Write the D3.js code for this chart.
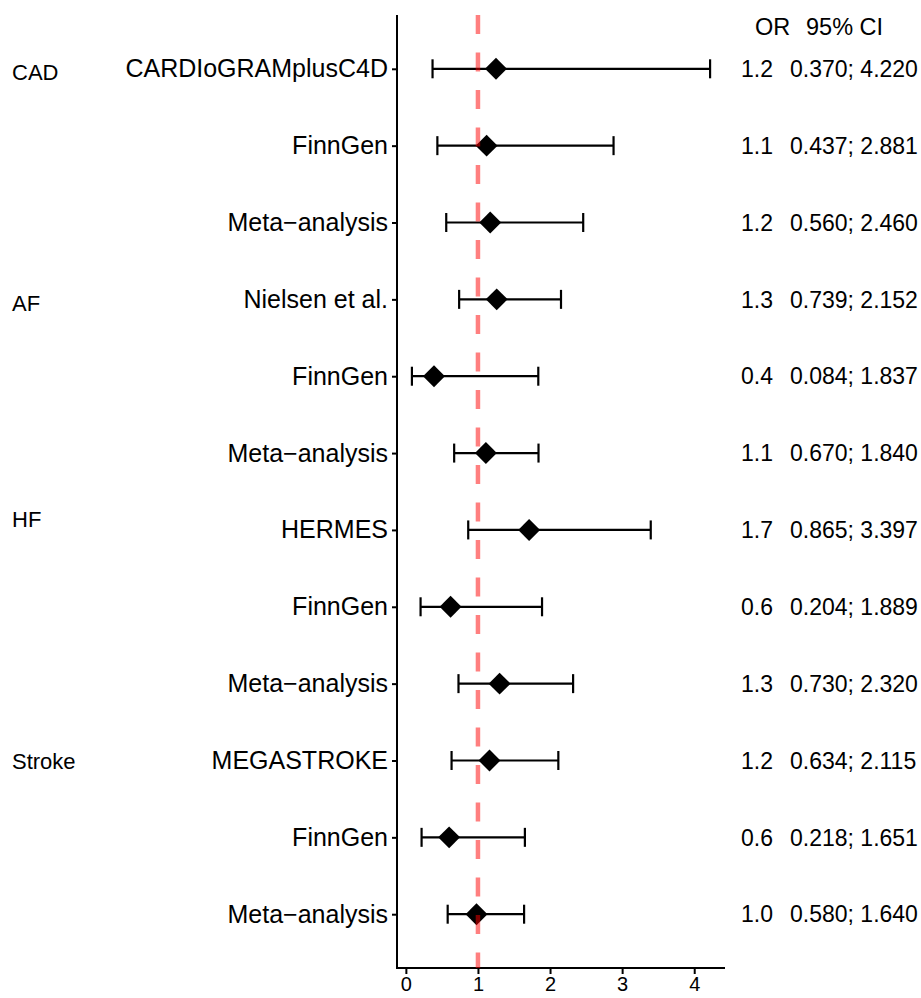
<!DOCTYPE html>
<html>
<head>
<meta charset="utf-8">
<script src="https://cdn.jsdelivr.net/npm/d3@7"></script>
<style>
  html, body { margin: 0; padding: 0; background: #fff; }
  svg { display: block; }
  text { font-family: "Liberation Sans", Arial, Helvetica, sans-serif; fill: #000; }
</style>
</head>
<body>
<svg id="chart" width="921" height="998"></svg>
<script>
// ---- data ----
const studies = ["CARDIoGRAMplusC4D", "FinnGen", "Meta\u2212analysis",
                 "Nielsen et al.", "FinnGen", "Meta\u2212analysis",
                 "HERMES", "FinnGen", "Meta\u2212analysis",
                 "MEGASTROKE", "FinnGen", "Meta\u2212analysis"];
const orValues = [1.25, 1.12, 1.17, 1.26, 0.39, 1.11, 1.71, 0.62, 1.30, 1.16, 0.60, 0.98];
const ciLower  = [0.370, 0.437, 0.560, 0.739, 0.084, 0.670, 0.865, 0.204, 0.730, 0.634, 0.218, 0.580];
const ciUpper  = [4.220, 2.881, 2.460, 2.152, 1.837, 1.840, 3.397, 1.889, 2.320, 2.115, 1.651, 1.640];
const orLabels = ["1.2", "1.1", "1.2", "1.3", "0.4", "1.1", "1.7", "0.6", "1.3", "1.2", "0.6", "1.0"];
const ciLabels = ["0.370; 4.220", "0.437; 2.881", "0.560; 2.460", "0.739; 2.152", "0.084; 1.837",
                  "0.670; 1.840", "0.865; 3.397", "0.204; 1.889", "0.730; 2.320", "0.634; 2.115",
                  "0.218; 1.651", "0.580; 1.640"];
const groups = ["CAD", "AF", "HF", "Stroke"];
const groupRows = [0, 3, 6, 9];
const xTicks = [0, 1, 2, 3, 4];
const refValue = 1;
const headers = ["OR", "95% CI"];

// ---- layout ----
const panel = { left: 397, right: 725, top: 15, bottom: 968 };
const groupDy = [3.5, 4, -11, 1];

const svg = d3.select("#chart");
const rows = d3.range(studies.length);

const x = d3.scaleLinear().domain([-0.123, 4.427]).range([panel.left, panel.right]);
const y = d3.scalePoint().domain(rows).range([panel.top, panel.bottom]).padding(0.7);

// error bars
const bars = svg.append("g").attr("stroke", "#000").attr("stroke-width", 2.2).attr("fill", "none");
rows.forEach(i => {
  const yy = y(i);
  bars.append("line").attr("x1", x(ciLower[i])).attr("x2", x(ciUpper[i])).attr("y1", yy).attr("y2", yy);
  bars.append("line").attr("x1", x(ciLower[i])).attr("x2", x(ciLower[i])).attr("y1", yy - 9.5).attr("y2", yy + 9.5);
  bars.append("line").attr("x1", x(ciUpper[i])).attr("x2", x(ciUpper[i])).attr("y1", yy - 9.5).attr("y2", yy + 9.5);
});

// diamonds
const diamond = d3.symbol(d3.symbolSquare, 240);
svg.append("g").selectAll("path").data(rows).join("path")
  .attr("d", diamond)
  .attr("transform", i => `translate(${x(orValues[i])},${y(i)}) rotate(45)`)
  .attr("fill", "#000");

// x axis
const xAxis = svg.append("g")
  .attr("transform", `translate(0,${panel.bottom})`)
  .call(d3.axisBottom(x).tickValues(xTicks).tickFormat(d3.format("d")).tickSize(6).tickSizeOuter(0).tickPadding(3));
xAxis.select(".domain").attr("stroke-width", 2).attr("d", `M${panel.left - 1},0H${panel.right}`);
xAxis.selectAll(".tick line").attr("stroke-width", 2);
xAxis.selectAll("text").attr("font-size", 20).attr("font-family", '"Liberation Sans", Arial, sans-serif');

// y axis
const yAxis = svg.append("g")
  .attr("transform", `translate(${panel.left},0)`)
  .call(d3.axisLeft(y).tickFormat(i => studies[i]).tickSize(5).tickSizeOuter(0).tickPadding(4));
yAxis.select(".domain").attr("stroke-width", 2).attr("d", `M0,${panel.top}V${panel.bottom + 1}`);
yAxis.selectAll(".tick line").attr("stroke-width", 2);
yAxis.selectAll("text").attr("font-size", 25).attr("font-family", '"Liberation Sans", Arial, sans-serif');

// reference line (semi-transparent red, on top)
svg.append("line")
  .attr("x1", x(refValue)).attr("x2", x(refValue))
  .attr("y1", panel.top).attr("y2", panel.bottom)
  .attr("stroke", "red").attr("stroke-opacity", 0.5)
  .attr("stroke-width", 4.5).attr("stroke-dasharray", "19,18.5");

// group labels
svg.append("g").selectAll("text").data(groups).join("text")
  .attr("x", 12)
  .attr("y", (g, k) => y(groupRows[k]) + groupDy[k])
  .attr("dy", "0.36em")
  .attr("font-size", 22)
  .text(g => g);

// right-side table
svg.append("text").attr("x", 755).attr("y", 27).attr("dy", "0.36em").attr("font-size", 23.5).text(headers[0]);
svg.append("text").attr("x", 806).attr("y", 27).attr("dy", "0.36em").attr("font-size", 23.5).text(headers[1]);

svg.append("g").selectAll("text").data(rows).join("text")
  .attr("x", 741).attr("y", i => y(i)).attr("dy", "0.36em").attr("font-size", 23)
  .text(i => orLabels[i]);
svg.append("g").selectAll("text").data(rows).join("text")
  .attr("x", 790).attr("y", i => y(i)).attr("dy", "0.36em").attr("font-size", 23)
  .text(i => ciLabels[i]);
</script>
</body>
</html>
